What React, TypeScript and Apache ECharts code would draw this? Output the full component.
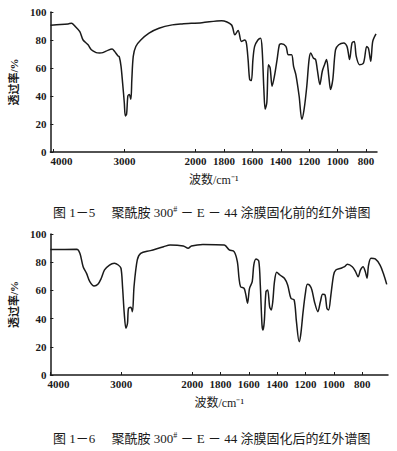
import React, { useEffect, useRef } from "react";
import * as echarts from "echarts";

// Spectrum 1-5 (before curing): wavenumber (cm-1) and transmittance (%)
const WN_BEFORE = [
  4040, 3900, 3792, 3744, 3698, 3628, 3582, 3512, 3466, 3398, 3350, 3304, 3234, 3174, 3140, 3094,
  3072, 3048, 3026, 3002, 2988, 2970, 2952, 2932, 2910, 2896, 2876, 2840, 2770, 2654, 2514, 2328,
  2190, 1955, 1816, 1747, 1723, 1700, 1677, 1654, 1642, 1630, 1619, 1607, 1596, 1584, 1561, 1542,
  1531, 1519, 1510, 1498, 1487, 1475, 1461, 1445, 1426, 1410, 1398, 1364, 1347, 1324, 1310, 1294,
  1271, 1252, 1236, 1217, 1201, 1189, 1171, 1155, 1143, 1125, 1108, 1092, 1078, 1062, 1050, 1034,
  1015, 992, 957, 934, 916, 899, 883, 869, 846, 818, 795, 783, 767, 753, 730,
];
const T_BEFORE = [
  90.6, 91.0, 91.5, 92.0, 90.0, 86.0, 80.0, 76.6, 73.0, 71.0, 70.7, 71.0, 72.6, 73.5, 71.9, 68.8,
  67.9, 61.2, 49.4, 35.2, 25.7, 27.0, 40.0, 41.0, 37.6, 51.8, 68.3, 75.4, 80.0, 84.9, 88.4, 90.8,
  91.5, 92.4, 93.8, 90.8, 83.7, 86.8, 79.0, 80.0, 77.8, 66.0, 51.8, 51.0, 66.0, 75.4, 80.0, 81.3,
  73.0, 44.7, 30.5, 35.5, 62.4, 60.0, 47.0, 54.0, 66.0, 76.6, 77.3, 75.4, 69.5, 69.5, 61.2, 55.3,
  40.0, 23.4, 30.5, 47.0, 66.0, 70.7, 67.1, 66.0, 58.9, 48.2, 57.7, 62.4, 66.0, 54.0, 44.7, 51.8,
  73.0, 76.6, 77.8, 75.4, 66.0, 77.8, 79.0, 68.3, 62.4, 63.6, 75.4, 74.0, 64.8, 79.0, 84.4,
];

// Spectrum 1-6 (after curing)
const WN_AFTER = [
  4000, 3630, 3584, 3538, 3490, 3444, 3384, 3330, 3282, 3236, 3166, 3098, 3042, 3004, 2982, 2958,
  2934, 2912, 2898, 2866, 2842, 2820, 2774, 2726, 2588, 2402, 2310, 2124, 2056, 2010, 1924, 1773,
  1738, 1704, 1681, 1669, 1658, 1634, 1623, 1609, 1595, 1576, 1565, 1549, 1530, 1519, 1507, 1500,
  1491, 1479, 1467, 1453, 1442, 1431, 1419, 1403, 1380, 1349, 1326, 1303, 1280, 1264, 1245, 1234,
  1217, 1201, 1187, 1172, 1155, 1137, 1113, 1095, 1079, 1062, 1049, 1037, 1021, 1002, 986, 951,
  924, 905, 870, 847, 829, 812, 794, 778, 766, 755, 738, 708, 674, 651, 627,
];
const T_AFTER = [
  89.0, 89.1, 86.3, 76.8, 72.1, 66.2, 63.1, 64.3, 68.6, 74.5, 78.0, 79.2, 78.0, 75.7, 62.6, 43.8,
  33.1, 36.7, 47.3, 48.0, 44.9, 62.6, 81.6, 86.3, 88.2, 91.0, 92.2, 91.5, 89.9, 91.5, 92.6, 92.2,
  88.7, 87.5, 80.4, 68.6, 62.6, 61.5, 57.9, 50.9, 61.5, 66.2, 78.0, 82.3, 80.9, 63.8, 35.5, 31.9,
  37.8, 59.1, 60.3, 48.4, 46.1, 52.0, 66.2, 72.8, 70.9, 68.6, 63.8, 54.4, 53.2, 37.8, 23.6, 28.4,
  44.9, 57.9, 64.3, 63.8, 60.3, 52.0, 44.9, 52.0, 57.2, 56.7, 47.3, 46.1, 56.7, 70.9, 74.5, 75.7,
  76.8, 78.5, 76.8, 73.3, 69.7, 74.5, 76.8, 73.3, 68.6, 78.0, 82.8, 82.3, 78.0, 72.1, 64.3,
];

const X_TICKS = [4000, 3000, 2000, 1800, 1600, 1400, 1200, 1000, 800];
const Y_TICKS = [0, 20, 40, 60, 80, 100];

const CAPTION_BEFORE = "图 1－5　 聚酰胺 300{s|#} － E － 44 涂膜固化前的红外谱图";
const CAPTION_AFTER = "图 1－6　 聚酰胺 300{s|#} － E － 44 涂膜固化后的红外谱图";
const Y_NAME = "透过率/%";
const X_NAME = "波数/cm⁻¹";

// IR chart abscissa: 4000-2000 cm-1 drawn at half the scale of 2000-400 cm-1
const toU = (wn: number) => (wn >= 2000 ? (4000 - wn) / 2 : 1000 + (2000 - wn));
const fromU = (u: number) => (u <= 1000 ? 4000 - 2 * u : 2000 - (u - 1000));

const FONT = "Liberation Serif, Noto Sans CJK SC, serif";
const INK = "#1a1a1a";

function makeAxes(gridIndex: number, xmin: number, xmax: number) {
  const ticks = X_TICKS.map(toU);
  const xAxis = {
    type: "value",
    gridIndex,
    min: xmin,
    max: xmax,
    name: X_NAME,
    nameLocation: "middle",
    nameGap: 22,
    nameTextStyle: { fontFamily: FONT, fontSize: 12, color: INK },
    axisLine: { show: true, onZero: false, lineStyle: { color: INK, width: 1.5 } },
    axisTick: { show: true, inside: true, length: 3, customValues: ticks, lineStyle: { color: INK } },
    axisLabel: {
      customValues: ticks,
      margin: 3,
      fontFamily: FONT,
      fontSize: 11,
      fontWeight: "bold",
      color: INK,
      formatter: (v: number) => {
        const w = Math.round(fromU(v));
        return w === 4000 ? `{f|${w}}` : String(w);
      },
      rich: {
        f: { fontFamily: FONT, fontSize: 11, fontWeight: "bold", color: INK, padding: [0, 0, 0, 16] },
      },
    },
    splitLine: { show: false },
  };
  const yAxis = {
    type: "value",
    gridIndex,
    min: 0,
    max: 100,
    interval: 20,
    name: Y_NAME,
    nameLocation: "middle",
    nameRotate: 90,
    nameGap: 24,
    nameTextStyle: { fontFamily: FONT, fontSize: 11, fontWeight: "bold", color: INK },
    axisLine: { show: true, onZero: false, lineStyle: { color: INK, width: 1.5 } },
    axisTick: { show: true, inside: true, length: 3, lineStyle: { color: INK } },
    axisLabel: {
      margin: 4,
      fontFamily: FONT,
      fontSize: 11,
      fontWeight: "bold",
      color: INK,
      customValues: Y_TICKS,
    },
    splitLine: { show: false },
  };
  return { xAxis, yAxis };
}

export default function App() {
  const ref = useRef<HTMLDivElement>(null);
  useEffect(() => {
    if (!ref.current) return;
    const chart = echarts.init(ref.current, null, { renderer: "svg" });
    const a1 = makeAxes(0, -21, 2277);
    const a2 = makeAxes(1, 0, 2382);
    const captionStyle = (text: string, y: number) => ({
      type: "text",
      x: 53,
      y,
      style: {
        text,
        fill: INK,
        font: `13px ${FONT}`,
        verticalAlign: "middle",
        rich: { s: { fontSize: 8, verticalAlign: "top", padding: [0, 0, 6, 0], fontFamily: FONT, fill: INK } },
      },
    });
    chart.setOption({
      animation: false,
      backgroundColor: "#ffffff",
      grid: [
        { left: 47, top: 12, width: 330, height: 140 },
        { left: 45, top: 234, width: 343, height: 141 },
      ],
      xAxis: [a1.xAxis, a2.xAxis],
      yAxis: [a1.yAxis, a2.yAxis],
      series: [
        {
          type: "line",
          xAxisIndex: 0,
          yAxisIndex: 0,
          data: WN_BEFORE.map((w, i) => [toU(w), T_BEFORE[i]]),
          showSymbol: false,
          smooth: 0.3,
          lineStyle: { color: INK, width: 1.5 },
        },
        {
          type: "line",
          xAxisIndex: 1,
          yAxisIndex: 1,
          data: WN_AFTER.map((w, i) => [toU(w), T_AFTER[i]]),
          showSymbol: false,
          smooth: 0.3,
          lineStyle: { color: INK, width: 1.5 },
        },
      ],
      graphic: [captionStyle(CAPTION_BEFORE, 212), captionStyle(CAPTION_AFTER, 438)],
    });
    return () => chart.dispose();
  }, []);
  return (
    <div
      ref={ref}
      style={{ position: "fixed", left: 0, top: 0, width: 397, height: 451, background: "#fff" }}
    />
  );
}
